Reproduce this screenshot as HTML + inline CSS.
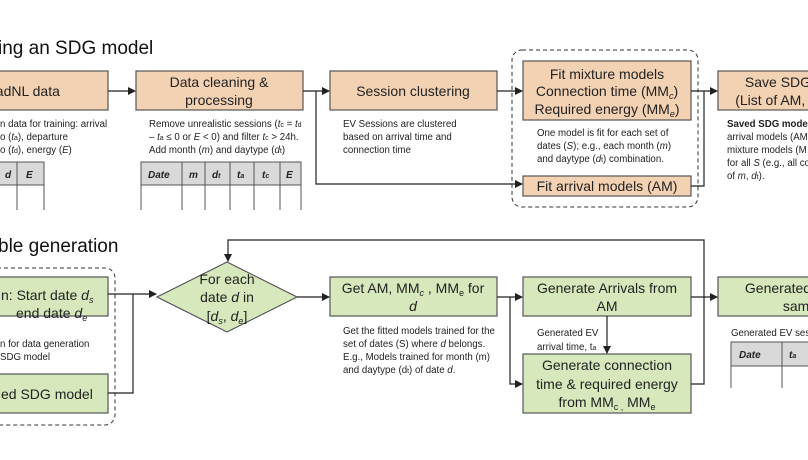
<!DOCTYPE html>
<html><head><meta charset="utf-8"><style>
body{margin:0;width:808px;height:455px;overflow:hidden;background:#fff;font-family:"Liberation Sans",sans-serif}
svg text{font-family:"Liberation Sans",sans-serif}
.b{font-size:14px;fill:#222}
.d{font-size:9.7px;fill:#222}
.t{font-size:19px;fill:#111}
</style></head><body>
<svg width="808" height="455" viewBox="0 0 808 455">
<defs><marker id="a" markerWidth="8" markerHeight="8" refX="7" refY="4" orient="auto" markerUnits="userSpaceOnUse"><path d="M0,0 L8,4 L0,8z" fill="#222"/></marker></defs>
<text class="t" x="-2" y="54">ing an SDG model</text>
<text class="t" x="-2" y="252">ble generation</text>
<g stroke="#555" stroke-width="1.2">
<rect x="-60" y="71" width="168" height="39" fill="#f3d2b4"/>
<rect x="136" y="71" width="167" height="39" fill="#f3d2b4"/>
<rect x="330" y="71" width="167" height="39" fill="#f3d2b4"/>
<rect x="523" y="61" width="168" height="59" fill="#f3d2b4"/>
<rect x="523" y="176" width="168" height="20" fill="#f3d2b4"/>
<rect x="718" y="71" width="120" height="39" fill="#f3d2b4"/>
<rect x="-60" y="277" width="168" height="39" fill="#d6e8bc"/>
<rect x="-60" y="374" width="168" height="39" fill="#d6e8bc"/>
<polygon points="157,297 227,262 297,297 227,332" fill="#d6e8bc"/>
<rect x="330" y="277" width="167" height="39" fill="#d6e8bc"/>
<rect x="523" y="277" width="168" height="39" fill="#d6e8bc"/>
<rect x="523" y="354" width="168" height="59" fill="#d6e8bc"/>
<rect x="718" y="277" width="120" height="39" fill="#d6e8bc"/>
</g>
<g fill="none" stroke="#333" stroke-width="1" stroke-dasharray="4,3">
<rect x="512" y="50" width="186" height="157" rx="10"/>
<rect x="-20" y="268" width="135" height="157" rx="10"/>
</g>
<g fill="none" stroke="#222" stroke-width="1.2">
<path d="M108,91H135" marker-end="url(#a)"/>
<path d="M303,91H329" marker-end="url(#a)"/>
<path d="M316,91V184H522" marker-end="url(#a)"/>
<path d="M497,91H522" marker-end="url(#a)"/>
<path d="M691,91H717" marker-end="url(#a)"/>
<path d="M691,186H704V91"/>
<path d="M108,294H156" marker-end="url(#a)"/>
<path d="M108,393H133V294"/>
<path d="M704,297V240H228V261" marker-end="url(#a)"/>
<path d="M297,297H329" marker-end="url(#a)"/>
<path d="M497,297H522" marker-end="url(#a)"/>
<path d="M510,297V384H522" marker-end="url(#a)"/>
<path d="M607,316V353" marker-end="url(#a)"/>
<path d="M691,297H717" marker-end="url(#a)"/>
<path d="M691,384H704V297"/>
</g>
<text class="b" x="-12" y="96">aadNL data</text>
<text class="b" x="219" y="87" text-anchor="middle">Data cleaning &amp;</text>
<text class="b" x="219" y="105" text-anchor="middle">processing</text>
<text class="b" x="413" y="96" text-anchor="middle">Session clustering</text>
<text class="b" x="607" y="79" text-anchor="middle">Fit mixture models</text>
<text class="b" x="607" y="96" text-anchor="middle">Connection time (MM<tspan font-size="9" dy="3" font-style="italic">c</tspan><tspan dy="-3">)</tspan></text>
<text class="b" x="607" y="114" text-anchor="middle">Required energy (MM<tspan font-size="9" dy="3" font-style="italic">e</tspan><tspan dy="-3">)</tspan></text>
<text class="b" x="607" y="191" text-anchor="middle">Fit arrival models (AM)</text>
<text class="b" x="778" y="87" text-anchor="middle">Save SDG</text>
<text class="b" x="778" y="105" text-anchor="middle">(List of AM, M</text>
<g class="d">
<text class="d" x="0" y="127">n data for training: arrival</text>
<text class="d" x="0" y="140">o (<tspan font-style="italic">t</tspan><tspan font-size="7">a</tspan>), departure</text>
<text class="d" x="0" y="153">o (<tspan font-style="italic">t</tspan><tspan font-size="7">d</tspan>), energy (<tspan font-style="italic">E</tspan>)</text>
<text class="d" x="149" y="127">Remove unrealistic sessions (<tspan font-style="italic">t</tspan><tspan font-size="7">c</tspan> = <tspan font-style="italic">t</tspan><tspan font-size="7">d</tspan></text>
<text class="d" x="149" y="140">– <tspan font-style="italic">t</tspan><tspan font-size="7">a</tspan> ≤ 0 or <tspan font-style="italic">E</tspan> &lt; 0) and filter <tspan font-style="italic">t</tspan><tspan font-size="7">c</tspan> &gt; 24h.</text>
<text class="d" x="149" y="153">Add month (<tspan font-style="italic">m</tspan>) and daytype (<tspan font-style="italic">d</tspan><tspan font-size="7">t</tspan>)</text>
<text class="d" x="343" y="127">EV Sessions are clustered</text>
<text class="d" x="343" y="140">based on arrival time and</text>
<text class="d" x="343" y="153">connection time</text>
<text class="d" x="537" y="136">One model is fit for each set of</text>
<text class="d" x="537" y="149">dates (<tspan font-style="italic">S</tspan>); e.g., each month (<tspan font-style="italic">m</tspan>)</text>
<text class="d" x="537" y="162">and daytype (<tspan font-style="italic">d</tspan><tspan font-size="7">t</tspan>) combination.</text>
<text class="d" x="727" y="127" font-weight="bold">Saved SDG model</text>
<text class="d" x="727" y="140">arrival models (AM</text>
<text class="d" x="727" y="153">mixture models (M</text>
<text class="d" x="727" y="166">for all <tspan font-style="italic">S</tspan> (e.g., all co</text>
<text class="d" x="727" y="179">of <tspan font-style="italic">m</tspan>, <tspan font-style="italic">d</tspan><tspan font-size="7">t</tspan>).</text>
<text class="d" x="0" y="347">n for data generation</text>
<text class="d" x="0" y="360">SDG model</text>
<text class="d" x="343" y="334">Get the fitted models trained for the</text>
<text class="d" x="343" y="347">set of dates (S) where <tspan font-style="italic">d</tspan> belongs.</text>
<text class="d" x="343" y="360">E.g., Models trained for month (m)</text>
<text class="d" x="343" y="373">and daytype (d<tspan font-size="7">t</tspan>) of date <tspan font-style="italic">d</tspan>.</text>
<text class="d" x="537" y="336">Generated EV</text>
<text class="d" x="537" y="350">arrival time, t<tspan font-size="7">a</tspan></text>
<text class="d" x="731" y="336">Generated EV ses</text>
</g>
<text class="b" x="1" y="300">n: Start date <tspan font-style="italic">d</tspan><tspan font-size="9" dy="3" font-style="italic">s</tspan></text>
<text class="b" x="16" y="318">end date <tspan font-style="italic">d</tspan><tspan font-size="9" dy="3" font-style="italic">e</tspan></text>
<text class="b" x="1" y="399">ed SDG model</text>
<text class="b" x="227" y="284" text-anchor="middle">For each</text>
<text class="b" x="227" y="302" text-anchor="middle">date <tspan font-style="italic">d</tspan> in</text>
<text class="b" x="227" y="321" text-anchor="middle">[<tspan font-style="italic">d</tspan><tspan font-size="9" dy="3" font-style="italic">s</tspan><tspan dy="-3">, </tspan><tspan font-style="italic">d</tspan><tspan font-size="9" dy="3" font-style="italic">e</tspan><tspan dy="-3">]</tspan></text>
<text class="b" x="413" y="293" text-anchor="middle">Get AM, MM<tspan font-size="9" dy="3" font-style="italic">c</tspan><tspan dy="-3"> , MM</tspan><tspan font-size="9" dy="3">e</tspan><tspan dy="-3"> for</tspan></text>
<text class="b" x="413" y="311" text-anchor="middle" font-style="italic">d</text>
<text class="b" x="607" y="293" text-anchor="middle">Generate Arrivals from</text>
<text class="b" x="607" y="311" text-anchor="middle">AM</text>
<text class="b" x="607" y="370" text-anchor="middle">Generate connection</text>
<text class="b" x="607" y="389" text-anchor="middle">time &amp; required energy</text>
<text class="b" x="607" y="407" text-anchor="middle">from MM<tspan font-size="9" dy="3">c ,</tspan><tspan dy="-3"> MM</tspan><tspan font-size="9" dy="3">e</tspan></text>
<text class="b" x="778" y="293" text-anchor="middle">Generated</text>
<text class="b" x="800" y="311" text-anchor="middle">samp</text>
<g stroke="#555" stroke-width="1">
<rect x="-10" y="162" width="54" height="23" fill="#d9d9d9"/>
<path d="M-10,185V210M17,162V210M44,162V210" fill="none"/>
<rect x="141" y="162" width="160" height="23" fill="#d9d9d9"/>
<path d="M141,185V210M182,162V210M205,162V210M230,162V210M254,162V210M280,162V210M301,162V210" fill="none"/>
<rect x="731" y="342" width="90" height="24" fill="#d9d9d9"/>
<path d="M731,366V388M782,342V388" fill="none"/>
</g>
<g class="d" font-weight="bold" font-style="italic" font-size="10">
<text x="5" y="178" font-size="10">d</text><text x="26" y="178" font-size="10">E</text>
<text x="148" y="178" font-size="10">Date</text><text x="189" y="178" font-size="10">m</text>
<text x="212" y="178" font-size="10">d<tspan font-size="7">t</tspan></text>
<text x="237" y="178" font-size="10">t<tspan font-size="7">a</tspan></text>
<text x="262" y="178" font-size="10">t<tspan font-size="7">c</tspan></text>
<text x="286" y="178" font-size="10">E</text>
<text x="739" y="358" font-size="10">Date</text>
<text x="789" y="358" font-size="10">t<tspan font-size="7">a</tspan></text>
</g>
</svg>
</body></html>
